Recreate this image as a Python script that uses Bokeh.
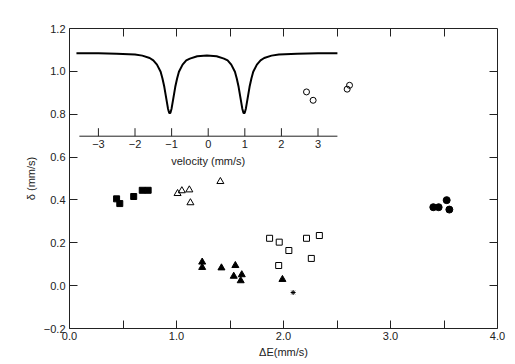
from bokeh.plotting import figure
from bokeh.models import Range1d, LinearAxis, FixedTicker
from bokeh.embed import file_html
from bokeh.resources import INLINE
from bokeh.core.properties import value

# ---------------- data ----------------
sq_filled_x = [0.44, 0.47, 0.60, 0.68, 0.735]
sq_filled_y = [0.405, 0.383, 0.416, 0.445, 0.445]

tri_open_x = [1.01, 1.05, 1.12, 1.13, 1.41]
tri_open_y = [0.430, 0.443, 0.447, 0.387, 0.486]

tri_filled_x = [1.24, 1.24, 1.42, 1.55, 1.535, 1.61, 1.60, 1.99]
tri_filled_y = [0.110, 0.085, 0.083, 0.094, 0.044, 0.051, 0.023, 0.029]

sq_open_x = [1.87, 1.96, 2.05, 1.955, 2.215, 2.26, 2.335]
sq_open_y = [0.221, 0.203, 0.164, 0.094, 0.221, 0.127, 0.234]

circ_filled_x = [3.40, 3.45, 3.525, 3.55]
circ_filled_y = [0.366, 0.366, 0.399, 0.355]

circ_open_x = [2.215, 2.277, 2.595, 2.617]
circ_open_y = [0.904, 0.865, 0.917, 0.935]

star_x = [2.09]
star_y = [-0.032]

# inset Mossbauer spectrum (velocity mm/s, relative transmission)
spec_velocity = [-3.60, -3.00, -2.50, -2.00, -1.80, -1.60, -1.50, -1.40, -1.30, -1.25,
                 -1.20, -1.15, -1.10, -1.07, -1.05, -1.03, -1.00, -0.95, -0.90, -0.85,
                 -0.80, -0.70, -0.60, -0.50, -0.30, -0.035, 0.23, 0.43, 0.53, 0.63,
                 0.73, 0.78, 0.83, 0.88, 0.93, 0.96, 0.98, 1.00, 1.03, 1.08,
                 1.13, 1.18, 1.23, 1.33, 1.43, 1.53, 1.73, 1.93, 2.43, 3.00, 3.53]
spec_trans = [1.000, 1.000, 0.999, 0.998, 0.996, 0.992, 0.988, 0.981, 0.969, 0.958,
              0.944, 0.926, 0.908, 0.901, 0.900, 0.901, 0.908, 0.926, 0.944, 0.958,
              0.969, 0.981, 0.988, 0.991, 0.995, 0.996, 0.995, 0.991, 0.988, 0.981,
              0.969, 0.958, 0.944, 0.926, 0.908, 0.901, 0.900, 0.901, 0.908, 0.926,
              0.944, 0.958, 0.969, 0.981, 0.988, 0.992, 0.996, 0.998, 0.999, 1.000, 1.000]

inset_ticks = [-3, -2, -1, 0, 1, 2, 3]
inset_tick_labels = ["\u22123", "\u22122", "\u22121", "0", "1", "2", "3"]

x_ticks = [0.0, 1.0, 2.0, 3.0, 4.0]
x_tick_labels = ["0.0", "1.0", "2.0", "3.0", "4.0"]
x_half_ticks = [0.5, 1.5, 2.5, 3.5]
y_ticks = [-0.2, 0.0, 0.2, 0.4, 0.6, 0.8, 1.0, 1.2]
y_tick_labels = ["\u22120.2", "0.0", "0.2", "0.4", "0.6", "0.8", "1.0", "1.2"]
top_ticks = [0.5, 1.0, 1.5, 2.0, 2.5, 3.0, 3.5]
right_ticks = [0.0, 0.2, 0.4, 0.6, 0.8, 1.0]

# ---------------- styling constants ----------------
FONT = "Liberation Sans"
FS = "11px"
TXT = "#222222"
INSET_AXIS_T = 0.8617

p = figure(width=507, height=362, output_backend="svg", toolbar_location=None,
           x_range=Range1d(0.0, 4.0), y_range=Range1d(-0.2, 1.2),
           min_border_left=69, min_border_right=10, min_border_top=28, min_border_bottom=34)
p.grid.visible = False
p.background_fill_color = "white"
p.border_fill_color = "white"
p.outline_line_color = "#222222"
p.outline_line_width = 1

def style_axis(ax):
    ax.axis_line_color = None
    ax.major_tick_in = 8
    ax.major_tick_out = 0
    ax.minor_tick_in = 8
    ax.minor_tick_out = 0
    ax.major_tick_line_color = "#222222"
    ax.minor_tick_line_color = "#222222"
    ax.major_label_text_font = FONT
    ax.major_label_text_font_size = FS
    ax.major_label_text_color = TXT
    ax.axis_label_text_font = FONT
    ax.axis_label_text_font_size = FS
    ax.axis_label_text_font_style = "normal"
    ax.axis_label_text_color = TXT

xa = p.xaxis[0]
style_axis(xa)
xa.ticker = FixedTicker(ticks=x_ticks, minor_ticks=x_half_ticks)
xa.major_label_overrides = {t: l for t, l in zip(x_ticks, x_tick_labels)}
xa.major_label_standoff = 3
xa.axis_label = "\u0394E(mm/s)"
xa.axis_label_standoff = 3

ya = p.yaxis[0]
style_axis(ya)
ya.ticker = FixedTicker(ticks=y_ticks, minor_ticks=[])
ya.major_label_overrides = {t: l for t, l in zip(y_ticks, y_tick_labels)}
ya.major_label_standoff = 4
ya.axis_label = "\u03b4 (mm/s)"
ya.axis_label_standoff = 4

top = LinearAxis(ticker=FixedTicker(ticks=[], minor_ticks=top_ticks))
style_axis(top)
p.add_layout(top, "above")

right = LinearAxis(ticker=FixedTicker(ticks=[], minor_ticks=right_ticks))
style_axis(right)
p.add_layout(right, "right")

# ---------------- main scatter ----------------
p.scatter(sq_filled_x, sq_filled_y, marker="square", size=6, fill_color="black", line_color="black")
p.scatter(tri_open_x, tri_open_y, marker="triangle", size=7, fill_color=None, line_color="black", line_width=1)
p.scatter(tri_filled_x, tri_filled_y, marker="triangle", size=7, fill_color="black", line_color="black")
p.scatter(sq_open_x, sq_open_y, marker="square", size=6, fill_color=None, line_color="black", line_width=1)
p.scatter(circ_filled_x, circ_filled_y, marker="circle", size=7, fill_color="black", line_color="black")
p.scatter(circ_open_x, circ_open_y, marker="circle", size=6, fill_color=None, line_color="black", line_width=1)
p.scatter(star_x, star_y, marker="asterisk", size=5, line_color="black", line_width=1)

# ---------------- inset spectrum ----------------
p.extra_x_ranges = {"vel": Range1d(-3.790, 7.904)}
p.extra_y_ranges = {"trans": Range1d(0.5412, 1.0412)}

p.line(spec_velocity, spec_trans, x_range_name="vel", y_range_name="trans",
       line_color="black", line_width=2)
p.segment(x0=[-3.52], y0=[INSET_AXIS_T], x1=[3.53], y1=[INSET_AXIS_T],
          x_range_name="vel", y_range_name="trans", line_color="#222222", line_width=1)
p.ray(x=inset_ticks, y=[INSET_AXIS_T] * len(inset_ticks), length=8, length_units="screen",
      angle=90, angle_units="deg", x_range_name="vel", y_range_name="trans",
      line_color="#222222", line_width=1)
p.text(x=inset_ticks, y=[INSET_AXIS_T] * len(inset_ticks), text=inset_tick_labels,
       x_range_name="vel", y_range_name="trans", y_offset=4,
       text_align="center", text_baseline="top", text_font=value(FONT),
       text_font_size=FS, text_color=TXT)
p.text(x=[0], y=[INSET_AXIS_T], text=["velocity (mm/s)"],
       x_range_name="vel", y_range_name="trans", y_offset=19,
       text_align="center", text_baseline="top", text_font=value(FONT),
       text_font_size=FS, text_color=TXT)

open("out.html", "w").write(file_html(p, INLINE))
